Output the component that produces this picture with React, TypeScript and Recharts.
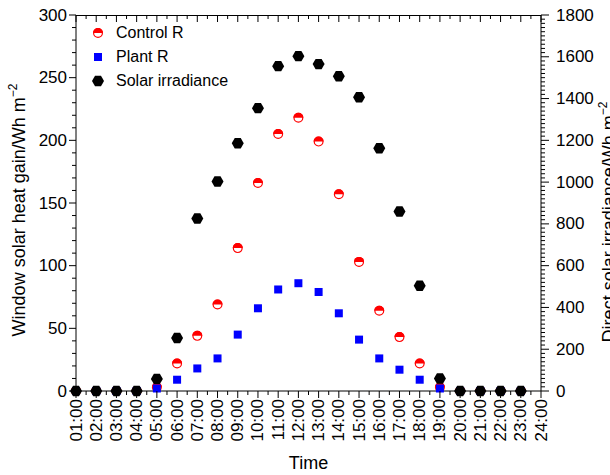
import { ComposedChart, Scatter, XAxis, YAxis, Legend } from "recharts";

const timeLabels = [
  "01:00", "02:00", "03:00", "04:00", "05:00", "06:00", "07:00", "08:00",
  "09:00", "10:00", "11:00", "12:00", "13:00", "14:00", "15:00", "16:00",
  "17:00", "18:00", "19:00", "20:00", "21:00", "22:00", "23:00", "24:00",
];

// readings at 01:00 .. 23:00
const controlR = [0, 0, 0, 0, 3, 22, 44, 69, 114, 166, 205, 218, 199, 157, 103, 64, 43, 22, 3, 0, 0, 0, 0];
const plantR = [0, 0, 0, 0, 2, 9, 18, 26, 45, 66, 81, 86, 79, 62, 41, 26, 17, 9, 2, 0, 0, 0, 0];
const solarIrradiance = [0, 0, 0, 0, 58, 254, 826, 1003, 1186, 1354, 1555, 1603, 1565, 1507, 1406, 1162, 859, 504, 60, 0, 0, 0, 0];

const leftTicks = [0, 50, 100, 150, 200, 250, 300];
const rightTicks = [0, 200, 400, 600, 800, 1000, 1200, 1400, 1600, 1800];

const FONT = '"Liberation Sans", Arial, Helvetica, sans-serif';
const TICK_FS = 17;
const CHART_W = 610;
const CHART_H = 475;
const TOP = 15;
const LEFT_AXIS_W = 76;
const RIGHT_AXIS_W = 69;

const toPoints = (vals: number[]) => vals.map((y, i) => ({ x: i + 1, y }));

// minor + major tick positions
const xTicks: number[] = [];
for (let h = 1; h <= 24; h += 0.5) xTicks.push(h);
const leftAll: number[] = [];
for (let v = 0; v <= 300; v += 10) leftAll.push(v);
const rightAll: number[] = [];
for (let v = 0; v <= 1800; v += 20) rightAll.push(v);

function Hexagon({ cx, cy, r = 6 }: { cx: number; cy: number; r?: number }) {
  const pts = [0, 60, 120, 180, 240, 300]
    .map((a) => {
      const t = (a * Math.PI) / 180;
      return `${cx + r * Math.cos(t)},${cy + r * Math.sin(t)}`;
    })
    .join(" ");
  return <polygon points={pts} fill="#000" />;
}

function HalfCircle({ cx, cy, r = 5 }: { cx: number; cy: number; r?: number }) {
  return (
    <g>
      <circle cx={cx} cy={cy} r={r - 0.6} fill="#fff" stroke="#ff0000" strokeWidth={1.2} />
      <path d={`M ${cx - r} ${cy} A ${r} ${r} 0 0 1 ${cx + r} ${cy} Z`} fill="#ff0000" />
    </g>
  );
}

function Square({ cx, cy, s = 8 }: { cx: number; cy: number; s?: number }) {
  return <rect x={cx - s / 2} y={cy - s / 2} width={s} height={s} fill="#0000ff" />;
}

function BottomTick(props: any) {
  const { x, y, payload } = props;
  const major = Number.isInteger(payload.value);
  return (
    <g>
      <line x1={x} y1={y} x2={x} y2={y + (major ? 7 : 4)} stroke="#000" />
      {major && (
        <text
          x={x}
          y={y + 8}
          transform={`rotate(-90 ${x} ${y + 8})`}
          textAnchor="end"
          dominantBaseline="central"
          fontSize={TICK_FS}
          fontFamily={FONT}
          fill="#000"
        >
          {timeLabels[payload.value - 1]}
        </text>
      )}
    </g>
  );
}

function LeftTick(props: any) {
  const { x, y, payload } = props;
  const major = leftTicks.includes(payload.value);
  return (
    <g>
      <line x1={x - (major ? 7 : 4)} y1={y} x2={x} y2={y} stroke="#000" />
      {major && (
        <text x={x - 9} y={y} textAnchor="end" dominantBaseline="central" fontSize={TICK_FS} fontFamily={FONT} fill="#000">
          {payload.value}
        </text>
      )}
    </g>
  );
}

function RightTick(props: any) {
  const { x, y, payload } = props;
  const major = rightTicks.includes(payload.value);
  return (
    <g>
      <line x1={x} y1={y} x2={x + (major ? 8 : 4)} y2={y} stroke="#000" />
      {major && (
        <text x={x + 15} y={y} textAnchor="start" dominantBaseline="central" fontSize={TICK_FS} fontFamily={FONT} fill="#000">
          {payload.value}
        </text>
      )}
    </g>
  );
}

function VerticalTitle({ x, cy, text }: { x: number; cy: number; text: string }) {
  return (
    <text
      x={x}
      y={cy}
      transform={`rotate(-90 ${x} ${cy})`}
      textAnchor="middle"
      fontSize={18}
      fontFamily={FONT}
      fill="#000"
    >
      {text}
      <tspan dy={-8} fontSize={12}>−2</tspan>
    </text>
  );
}

// top frame line with inward ticks, laid over the chart
function TopFrame() {
  const left = LEFT_AXIS_W;
  const right = CHART_W - RIGHT_AXIS_W;
  return (
    <svg
      width={CHART_W}
      height={30}
      style={{ position: "absolute", left: 0, top: 0, pointerEvents: "none" }}
    >
      <line x1={left} y1={TOP + 0.5} x2={right} y2={TOP + 0.5} stroke="#000" />
      {xTicks.map((t) => {
        const x = left + ((t - 1) / 23) * (right - left);
        const major = Number.isInteger(t);
        return <line key={t} x1={x} y1={TOP} x2={x} y2={TOP + (major ? 7 : 4)} stroke="#000" />;
      })}
    </svg>
  );
}

function LegendBox() {
  const rows = [
    { name: "Control R", icon: <HalfCircle cx={8} cy={8} /> },
    { name: "Plant R", icon: <Square cx={8} cy={8} /> },
    { name: "Solar irradiance", icon: <Hexagon cx={8} cy={8} /> },
  ];
  return (
    <div style={{ fontFamily: FONT, fontSize: 16, color: "#000" }}>
      {rows.map((r) => (
        <div key={r.name} style={{ display: "flex", alignItems: "center", height: 24 }}>
          <svg width={16} height={16} style={{ marginRight: 10 }}>
            {r.icon}
          </svg>
          <span>{r.name}</span>
        </div>
      ))}
    </div>
  );
}

export default function App() {
  return (
    <div style={{ position: "absolute", left: 0, top: 0, width: CHART_W, height: CHART_H, background: "#fff" }}>
      <ComposedChart width={CHART_W} height={CHART_H} margin={{ top: TOP, right: 0, bottom: 0, left: 0 }}>
        <XAxis
          type="number"
          dataKey="x"
          domain={[1, 24]}
          ticks={xTicks}
          interval={0}
          height={84}
          tickLine={false}
          tickSize={0}
          tickMargin={0}
          tick={<BottomTick />}
          stroke="#000"
          label={{
            value: "Time",
            position: "insideBottom",
            offset: 6,
            fontSize: 18,
            fontFamily: FONT,
            fill: "#000",
          }}
        />
        <YAxis
          yAxisId="left"
          dataKey="y"
          type="number"
          domain={[0, 300]}
          ticks={leftAll}
          interval={0}
          width={LEFT_AXIS_W}
          tickLine={false}
          tickSize={0}
          tickMargin={0}
          tick={<LeftTick />}
          stroke="#000"
          label={{
            content: (p: any) => (
              <VerticalTitle x={p.viewBox.x + 25} cy={210} text="Window solar heat gain/Wh m" />
            ),
          }}
        />
        <YAxis
          yAxisId="right"
          orientation="right"
          dataKey="y"
          type="number"
          domain={[0, 1800]}
          ticks={rightAll}
          interval={0}
          width={RIGHT_AXIS_W}
          tickLine={false}
          tickSize={0}
          tickMargin={0}
          tick={<RightTick />}
          stroke="#000"
          label={{
            content: (p: any) => (
              <VerticalTitle x={p.viewBox.x + 74} cy={222} text="Direct solar irradiance/Wh m" />
            ),
          }}
        />
        <Legend
          layout="vertical"
          align="center"
          verticalAlign="middle"
          content={() => <LegendBox />}
          wrapperStyle={{ left: 90, top: 21, width: 170 }}
        />
        <Scatter
          name="Control R"
          yAxisId="left"
          data={toPoints(controlR)}
          dataKey="y"
          isAnimationActive={false}
          shape={(p: any) => <HalfCircle cx={p.cx} cy={p.cy} />}
        />
        <Scatter
          name="Plant R"
          yAxisId="left"
          data={toPoints(plantR)}
          dataKey="y"
          isAnimationActive={false}
          shape={(p: any) => <Square cx={p.cx} cy={p.cy} />}
        />
        <Scatter
          name="Solar irradiance"
          yAxisId="right"
          data={toPoints(solarIrradiance)}
          dataKey="y"
          isAnimationActive={false}
          shape={(p: any) => <Hexagon cx={p.cx} cy={p.cy} />}
        />
      </ComposedChart>
      <TopFrame />
    </div>
  );
}
